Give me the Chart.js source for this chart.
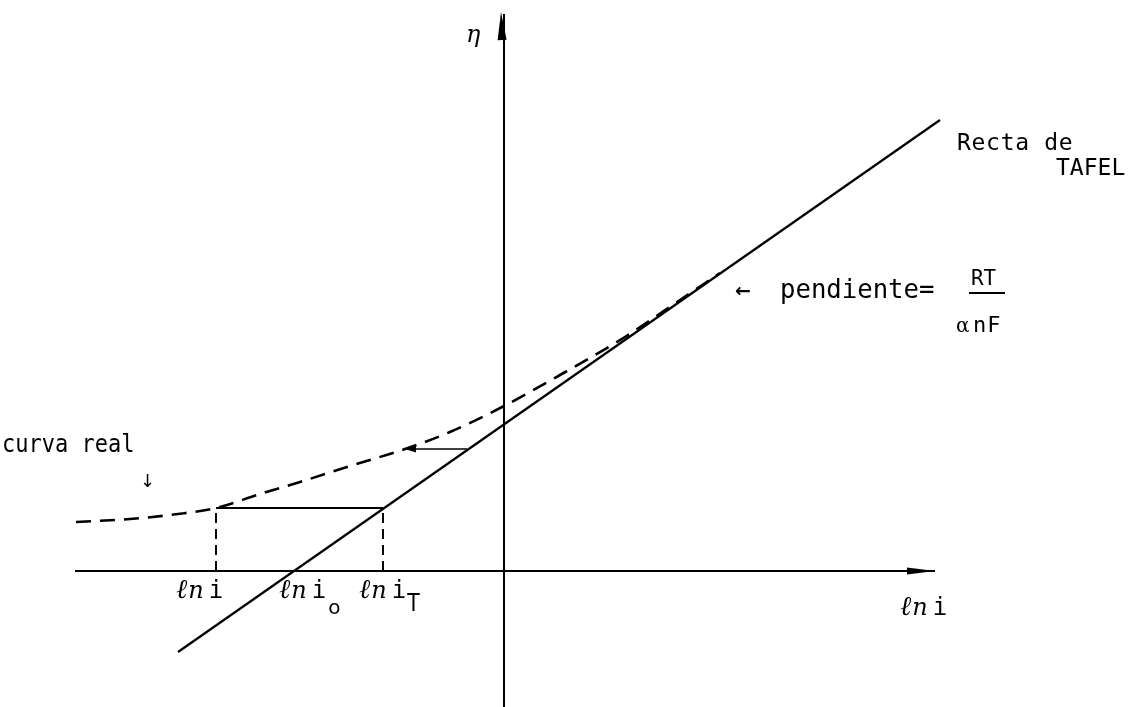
<!DOCTYPE html>
<html>
<head>
<meta charset="utf-8">
<script src="https://cdn.jsdelivr.net/npm/chart.js@4/dist/chart.umd.min.js"></script>
<style>
  html, body { margin: 0; padding: 0; background: #fff; }
  #wrap { width: 1134px; height: 707px; position: relative; }
</style>
</head>
<body>
<div id="wrap"><canvas id="graficoTafel"></canvas></div>
<script>
// Curva de Tafel: sobretension vs ln i
const curvaX = [-4.28, -3.74, -3.26, -2.88, -2.44, -2.04, -1.54, -0.99, -0.54, 0, 0.56, 1.21, 1.76, 2.16];
const curvaY = [0.49, 0.52, 0.57, 0.63, 0.77, 0.89, 1.05, 1.22, 1.39, 1.65, 1.96, 2.34, 2.71, 2.98];

const rectaX = [-3.26, 4.36];
const rectaY = [-0.81, 4.51];

// ln i, ln i0 y ln iT sobre el eje de abscisas
const lnI = -2.88;
const lnI0 = -2.10;
const lnIT = -1.21;
const nivel = 0.63;

// flecha pequena entre la recta y la curva
const flechaX = [-0.37, -0.99];
const flechaY = [1.22, 1.22];

const ejeX = [-4.29, 4.31];
const ejeY = [-1.36, 5.57];

const pts = (xs, ys) => xs.map((v, i) => ({ x: v, y: ys[i] }));

const linea = (data, extra) => Object.assign({
    data: data,
    showLine: true,
    borderColor: '#000',
    borderWidth: 2,
    pointRadius: 0,
    fill: false,
    clip: false
}, extra);

const datasets = [
    linea(pts(ejeX, [0, 0]), { label: 'eje ln i' }),
    linea(pts([0, 0], ejeY), { label: 'eje eta' }),
    linea(pts(rectaX, rectaY), { label: 'Recta de TAFEL', borderWidth: 2.2 }),
    linea(pts(curvaX, curvaY), { label: 'curva real', borderWidth: 2.6, borderDash: [15, 9], cubicInterpolationMode: 'monotone' }),
    linea(pts([lnI, lnIT], [nivel, nivel]), { label: 'horizontal' }),
    linea(pts([lnI, lnI], [0, nivel]), { label: 'ln i', borderDash: [10, 6] }),
    linea(pts([lnIT, lnIT], [0, nivel]), { label: 'ln iT', borderDash: [10, 6] }),
    linea(pts(flechaX, flechaY), { label: 'flecha', borderWidth: 1.6 })
];

function punta(ctx, tx, ty, ang, largo, ancho) {
    ctx.save();
    ctx.translate(tx, ty);
    ctx.rotate(ang);
    ctx.beginPath();
    ctx.moveTo(0, 0);
    ctx.lineTo(-largo, -ancho);
    ctx.lineTo(-largo, ancho);
    ctx.closePath();
    ctx.fillStyle = '#000';
    ctx.fill();
    ctx.restore();
}

// texto con espaciado y compresion horizontal opcionales; devuelve el x final
function texto(ctx, s, x, y, font, esp, sx) {
    sx = sx || 1;
    ctx.font = font;
    ctx.letterSpacing = (esp || 0) + 'px';
    const w = ctx.measureText(s).width * sx;
    ctx.save();
    ctx.translate(x, y);
    ctx.scale(sx, 1);
    ctx.fillText(s, 0, 0);
    ctx.restore();
    ctx.letterSpacing = '0px';
    return x + w;
}

// "ln i" con subindice opcional
function etiquetaLn(ctx, x, y, sub) {
    let cx = texto(ctx, '\u2113', x, y, 'italic 27px "DejaVu Serif"');
    cx = texto(ctx, 'n', cx + 1, y, 'italic 24px "DejaVu Serif"');
    cx = texto(ctx, 'i', cx + 5, y, '24px "DejaVu Sans Mono"');
    if (sub === 'o') texto(ctx, 'o', cx + 2, y + 16, '20px "DejaVu Sans"');
    if (sub === 'T') texto(ctx, 'T', cx + 1, y + 13, '24px "DejaVu Sans"', 0, 0.85);
}

const anotaciones = {
    id: 'anotaciones',
    afterDatasetsDraw(chart) {
        const { ctx, scales: { x, y } } = chart;
        const px = v => x.getPixelForValue(v);
        const py = v => y.getPixelForValue(v);
        ctx.save();
        ctx.fillStyle = '#000';
        ctx.textBaseline = 'alphabetic';

        // puntas de los ejes
        punta(ctx, px(ejeX[1]), py(0), 0, 28, 3.5);
        punta(ctx, px(0) - 3, py(ejeY[1]) - 2, -Math.PI / 2 - 0.04, 28, 4.5);
        punta(ctx, px(flechaX[1]), py(flechaY[1]), Math.PI, 11, 3.5);

        const base = py(0) + 27;
        etiquetaLn(ctx, px(lnI) - 40, base);
        etiquetaLn(ctx, px(lnI0) - 15, base, 'o');
        etiquetaLn(ctx, px(lnIT) - 24, base, 'T');
        etiquetaLn(ctx, 900, py(0) + 44);

        // eje vertical
        texto(ctx, '\u03B7', 466, 42, 'italic 24px "DejaVu Serif"');

        texto(ctx, 'Recta de', 957, 150, '23px "DejaVu Sans Mono"', 0.7);
        texto(ctx, 'TAFEL', 1056, 175, '23px "DejaVu Sans Mono"', 0);

        texto(ctx, '\u2190', 735, 297, 'bold 19px "DejaVu Sans"');
        texto(ctx, 'pendiente=', 780, 298, '27px "DejaVu Sans Mono"', 0, 0.95);
        texto(ctx, 'RT', 971, 285, '22px "DejaVu Sans Mono"', 0, 0.95);
        ctx.fillRect(969, 292, 36, 2);
        texto(ctx, '\u03B1', 956, 332, '20px "DejaVu Serif"');
        texto(ctx, 'nF', 973, 332, '22px "DejaVu Sans Mono"', 1);

        texto(ctx, 'curva real', 2, 452, '25px "DejaVu Sans Mono"', 0, 0.88);
        texto(ctx, '\u2193', 140, 487, '18px "DejaVu Sans"');
        ctx.restore();
    }
};

new Chart(document.getElementById('graficoTafel').getContext('2d'), {
    type: 'scatter',
    data: { datasets: datasets },
    options: {
        responsive: true,
        maintainAspectRatio: false,
        animation: false,
        layout: { padding: 0 },
        plugins: {
            legend: { display: false },
            tooltip: { enabled: false }
        },
        scales: {
            x: { type: 'linear', min: -5.04, max: 6.30, display: false },
            y: { type: 'linear', min: -1.36, max: 5.71, display: false }
        }
    },
    plugins: [anotaciones]
});
</script>
</body>
</html>
